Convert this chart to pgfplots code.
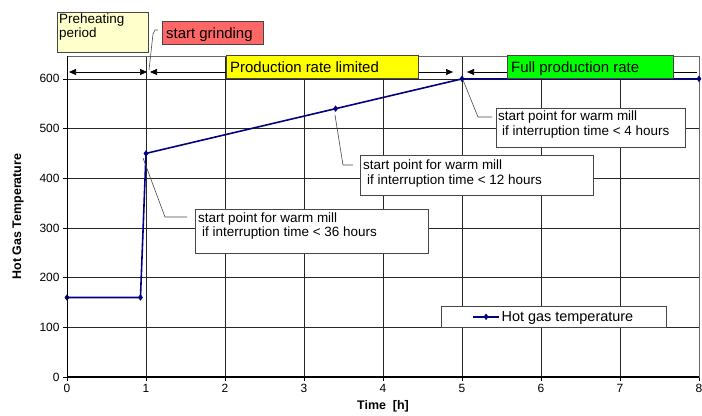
\documentclass[border=0pt]{standalone}
\usepackage{fontspec}
\setmainfont{Liberation Sans}
\usepackage{pgfplots}
\pgfplotsset{compat=1.18}
\usetikzlibrary{arrows.meta}

\definecolor{navyline}{RGB}{0,0,128}
\definecolor{preheat}{RGB}{255,255,204}
\definecolor{grindred}{RGB}{255,102,102}
\definecolor{prodyellow}{RGB}{255,255,0}
\definecolor{fullgreen}{RGB}{0,255,0}
\definecolor{boxline}{RGB}{70,70,70}

\begin{document}
\begin{tikzpicture}
\begin{axis}[
  scale only axis, width=632bp, height=321bp,
  xmin=0, xmax=8, ymin=0, ymax=646,
  xtick={0,1,...,8}, ytick={0,100,...,600},
  grid=major, major grid style={black!85, line width=0.7pt},
  axis line style={black!60, line width=0.9pt},
  tick pos=left, tick align=outside, major tick length=4bp,
  tick style={black, line width=0.7pt},
  ticklabel style={font=\fontsize{12}{14}\selectfont},
  /pgf/number format/assume math mode=true,
  xlabel={Time\ \ [h]}, ylabel={Hot Gas Temperature},
  label style={font=\bfseries\fontsize{12.5}{14}\selectfont},
  xlabel style={at={(axis description cs:0.5,-0.09)}, anchor=center},
  ylabel style={at={(axis description cs:-0.0775,0.5)}, anchor=center},
  clip=false,
  legend style={at={(axis description cs:0.592,0.153)}, anchor=south west,
    draw=boxline, line width=0.7pt, font=\fontsize{14.5}{16}\selectfont,
    inner xsep=31bp, inner ysep=3bp,
    /tikz/every even column/.style={column sep=1bp}},
  legend image code/.code={\draw[mark repeat=2,mark phase=2] plot coordinates {(0cm,0cm) (0.45cm,0cm) (0.9cm,0cm)};},
]
\addplot[navyline, line width=1.6pt, mark=diamond*, mark size=2.8pt,
  mark options={fill=navyline, draw=navyline, line width=0.5pt}]
  coordinates {(0,160) (0.93,160) (1,450) (3.4,540) (5,600) (8,600)};
\addlegendentry{Hot gas temperature}
\end{axis}

\begin{scope}[x=1bp, y=1bp]
% bottom and left axis lines
\draw[black, line width=1.2pt] (0,0) -- (632,0);
\draw[black, line width=1pt] (0,0) -- (0,321);

% period arrows
\draw[black, line width=0.7pt, {Triangle[length=7bp,width=6bp]}-{Triangle[length=7bp,width=6bp]}] (2,305) -- (80,305);
\draw[black, line width=0.7pt, {Triangle[length=7bp,width=6bp]}-{Triangle[length=7bp,width=6bp]}] (83,305) -- (386,305);
\draw[black, line width=0.7pt, {Triangle[length=7bp,width=6bp]}-] (400,305) -- (630,305);

% label boxes
\draw[fill=preheat, draw=boxline, line width=0.8pt] (-10,325) rectangle (81,365);
\node[anchor=base west, inner sep=0, font=\fontsize{13.5}{15}\selectfont] at (-8,354) {Preheating};
\node[anchor=base west, inner sep=0, font=\fontsize{13.5}{15}\selectfont] at (-8,340) {period};

\draw[boxline, line width=0.6pt] (91,347) -- (88,347) -- (86,343) -- (82,307);
\draw[fill=grindred, draw=boxline, line width=0.8pt] (95,333) rectangle (196,356);
\node[anchor=base west, inner sep=0, font=\fontsize{15}{17}\selectfont] at (99,339) {start grinding};

\draw[fill=prodyellow, draw=boxline, line width=0.8pt] (159,299) rectangle (351,322);
\node[anchor=base west, inner sep=0, font=\fontsize{15}{17}\selectfont] at (163,305) {Production rate limited};

\draw[fill=fullgreen, draw=boxline, line width=0.8pt] (440,299) rectangle (606,322);
\node[anchor=base west, inner sep=0, font=\fontsize{15}{17}\selectfont] at (444,305) {Full production rate};

% callouts
\draw[boxline, line width=0.6pt] (396,297) -- (411,260) -- (425,260);
\draw[fill=white, draw=boxline, line width=0.8pt] (429,230) rectangle (618,269);
\node[anchor=base west, inner sep=0, font=\fontsize{13.5}{15}\selectfont] at (431,257) {start point for warm mill};
\node[anchor=base west, inner sep=0, font=\fontsize{13.5}{15}\selectfont] at (435,242) {if interruption time < 4 hours};

\draw[boxline, line width=0.6pt] (268,262) -- (276,212) -- (286,212);
\draw[fill=white, draw=boxline, line width=0.8pt] (293,182) rectangle (526,222);
\node[anchor=base west, inner sep=0, font=\fontsize{13.5}{15}\selectfont] at (296,208) {start point for warm mill};
\node[anchor=base west, inner sep=0, font=\fontsize{13.5}{15}\selectfont] at (300,193) {if interruption time < 12 hours};

\draw[boxline, line width=0.6pt] (76,219) -- (98,160) -- (120,160);
\draw[fill=white, draw=boxline, line width=0.8pt] (128,124) rectangle (361,168);
\node[anchor=base west, inner sep=0, font=\fontsize{13.5}{15}\selectfont] at (131,155) {start point for warm mill};
\node[anchor=base west, inner sep=0, font=\fontsize{13.5}{15}\selectfont] at (135,141) {if interruption time < 36 hours};
\end{scope}

\pgfresetboundingbox
\path (-67bp,-39bp) rectangle (635bp,377bp);
\end{tikzpicture}
\end{document}
